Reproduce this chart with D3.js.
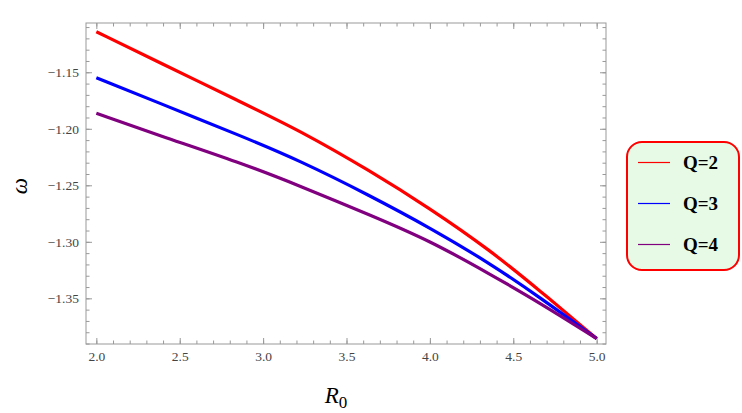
<!DOCTYPE html>
<html lang="en">
  <head>
    <meta charset="utf-8" />
    <style type="text/css">
      body { margin: 0; background: #fff; }
      svg { display: block; }
    </style>
  </head>
  <body>
    <svg width="742" height="413"></svg>
    <script src="https://d3js.org/d3.v7.min.js"></script>
    <script type="text/javascript">
      // values
      var r0 = [2.0, 2.38, 2.862, 3.222, 3.642, 4.0, 4.36, 4.66, 5.0];
      var q2 = [-1.1141, -1.1415, -1.176, -1.2017, -1.2372, -1.2704, -1.3073, -1.3433, -1.3856];
      var q3 = [-1.1548, -1.1774, -1.206, -1.2283, -1.2592, -1.2875, -1.319, -1.3492, -1.3856];
      var q4 = [-1.1863, -1.2061, -1.2299, -1.2506, -1.2763, -1.299, -1.3285, -1.354, -1.3856];
      var seriesNames = ["Q=2", "Q=3", "Q=4"];
      var seriesColors = ["#ff0000", "#0000ff", "#800080"];
      var xTicks = [2.0, 2.5, 3.0, 3.5, 4.0, 4.5, 5.0];
      var yTicks = [-1.15, -1.2, -1.25, -1.3, -1.35];

      var svg = d3.select("svg");
      var mLeft = 86, mRight = 606, mTop = 23, mBottom = 344;
      var serif = "Liberation Serif, DejaVu Serif, serif";

      var x = d3.scaleLinear().domain([1.938, 5.056]).range([mLeft, mRight]);
      var y = d3.scaleLinear().domain([-1.3904, -1.1064]).range([mBottom, mTop]);

      var xMinor = d3.range(19, 51).map(function (i) { return i / 10; })
        .filter(function (v) { return v >= 1.938 && v <= 5.056; });
      var yMinor = d3.range(-139, -110).map(function (i) { return i / 100; });

      var fmt = function (d) { return d3.format(".2f")(d).replace("-", "\u2212"); };

      function frameAxis(axisFn, scale, ticks, minor, fmtFn, pos) {
        var gMin = svg.append("g").attr("transform", pos)
          .call(axisFn(scale).tickValues(minor).tickSize(-3.5).tickFormat(""));
        var gMaj = svg.append("g").attr("transform", pos)
          .call(axisFn(scale).tickValues(ticks).tickSize(-6).tickPadding(fmtFn ? 7 : 0)
            .tickFormat(fmtFn || ""));
        [gMin, gMaj].forEach(function (g) {
          g.select(".domain").remove();
          g.selectAll("line").attr("stroke", "#999");
          g.selectAll("text")
            .attr("font-family", serif)
            .attr("font-size", 13.5)
            .attr("fill", "#444");
        });
        return gMaj;
      }

      // ticks inward on all four sides
      frameAxis(d3.axisBottom, x, xTicks, xMinor, d3.format(".1f"), "translate(0," + mBottom + ")");
      frameAxis(d3.axisTop, x, xTicks, xMinor, null, "translate(0," + mTop + ")");
      frameAxis(d3.axisLeft, y, yTicks, yMinor, fmt, "translate(" + mLeft + ",0)");
      frameAxis(d3.axisRight, y, yTicks, yMinor, null, "translate(" + mRight + ",0)");

      svg.append("rect")
        .attr("x", mLeft).attr("y", mTop)
        .attr("width", mRight - mLeft).attr("height", mBottom - mTop)
        .attr("fill", "none").attr("stroke", "#999").attr("stroke-width", 1);

      var line = d3.line()
        .x(function (d) { return x(d[0]); })
        .y(function (d) { return y(d[1]); })
        .curve(d3.curveBasis);

      [q2, q3, q4].forEach(function (s, i) {
        var pts = r0.map(function (v, j) { return [v, s[j]]; });
        svg.append("path")
          .attr("d", line(pts))
          .attr("fill", "none")
          .attr("stroke", seriesColors[i])
          .attr("stroke-width", 3.2);
      });

      // axis labels
      svg.append("text")
        .attr("transform", "translate(27,186) rotate(-90)")
        .attr("text-anchor", "middle")
        .attr("font-family", serif)
        .attr("font-style", "italic")
        .attr("font-size", 23)
        .text("\u03c9");

      var xl = svg.append("text")
        .attr("x", 336).attr("y", 403)
        .attr("text-anchor", "middle")
        .attr("font-family", serif)
        .attr("font-size", 23);
      xl.append("tspan").attr("font-style", "italic").text("R");
      xl.append("tspan").attr("font-size", 17).attr("dy", 5).text("0");

      // legend
      var lg = svg.append("g");
      lg.append("rect")
        .attr("x", 627).attr("y", 142)
        .attr("width", 112).attr("height", 128)
        .attr("rx", 15).attr("ry", 15)
        .attr("fill", "#e6fae6")
        .attr("stroke", "#ff0000")
        .attr("stroke-width", 2);
      seriesNames.forEach(function (n, i) {
        var yy = 162.5 + i * 41;
        lg.append("line")
          .attr("x1", 638).attr("x2", 670)
          .attr("y1", yy).attr("y2", yy)
          .attr("stroke", seriesColors[i])
          .attr("stroke-width", 1.2);
        lg.append("text")
          .attr("x", 683).attr("y", yy + 6.5)
          .attr("font-family", serif)
          .attr("font-weight", "bold")
          .attr("font-size", 19)
          .text(n);
      });
    </script>
  </body>
</html>
